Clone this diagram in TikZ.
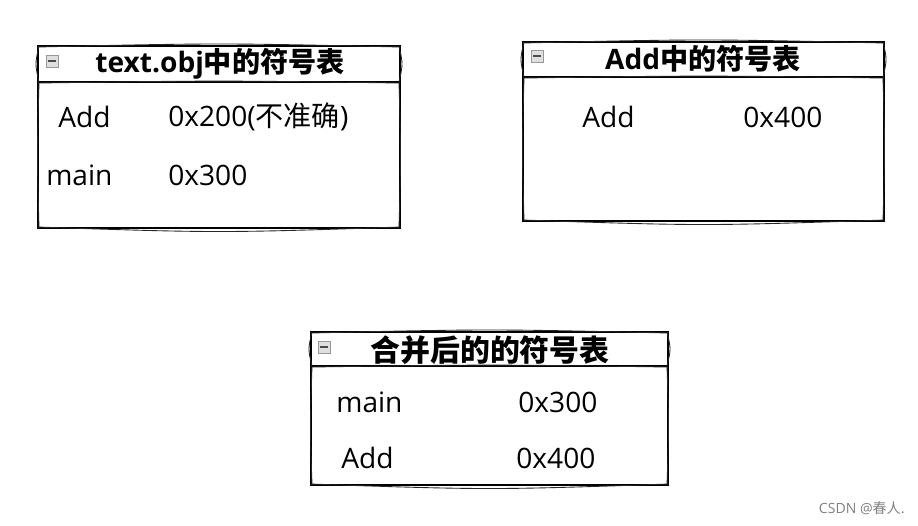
\documentclass[tikz,border=0pt]{standalone}
\usepackage{fontspec}
\setmainfont{Open Sans}
\newfontfamily\cjk{Noto Sans CJK SC}
\tikzset{hd/.style={line width=0.9pt,black}}
\tikzset{hdb/.style={line width=0.5pt,black!85}}
\tikzset{ttl/.style={font=\fontsize{16}{16}\selectfont\bfseries}}
\tikzset{row/.style={font=\fontsize{16}{16}\selectfont,anchor=west,inner sep=0pt}}
\tikzset{ico/.style={draw=gray!80,fill=gray!25,minimum size=7pt,inner sep=0pt,
  path picture={\draw[black!70,line width=0.8pt] ([xshift=1.5pt]path picture bounding box.west)
  -- ([xshift=-1.5pt]path picture bounding box.east);}}}
% sketchy table frame: left, top, right, header line, bottom
\newcommand\sketchbox[5]{%
  \draw[hd] (#1,#2) -- (#3,#2) -- (#3,#5) -- (#1,#5) -- cycle;
  \draw[hd] (#1,#4) -- (#3,#4);
  \draw[hdb] (#1-1,#2+1) .. controls ({(#1+#3)/2},#2-3) .. (#3+1,#2+1);
  \draw[hdb] (#1,#4+1) .. controls ({(#1+#3)/2},#4-1.5) .. (#3,#4+1);
  \draw[hdb] (#1-1,#5-1) .. controls ({(#1+#3)/2},#5+5) .. (#3+1,#5-1);
  \draw[hdb] (#1+1,#2) .. controls (#1-3,{(#2+#4)/2}) .. (#1+1,#4);
  \draw[hdb] (#3-1,#2) .. controls (#3+3,{(#2+#4)/2}) .. (#3-1,#4);
  \draw[hdb] (#1+1,#4) .. controls (#1-1,{(#4+#5)/2}) .. (#1+1,#5);
  \draw[hdb] (#3-1,#4) .. controls (#3+1,{(#4+#5)/2}) .. (#3-1,#5);
}
\begin{document}
\begin{tikzpicture}[x=0.02cm,y=-0.02cm]
  \useasboundingbox (0,0) rectangle (918,525);
  % text.obj
  \sketchbox{38}{46}{400}{82}{228}
  \node[ico] (i1) at (52,61) {};
  \node[ttl] (t1) at (220,64) {text.obj{\cjk 中的符号表}};
  \node[row] (a1) at (58,117) {Add};
  \node[row] (av1) at (168,117) {0x200({\cjk 不准确})};
  \node[row] (m1) at (46,175) {main};
  \node[row] (mv1) at (168,175) {0x300};
  % Add
  \sketchbox{523}{42}{884}{77}{221}
  \node[ico] (i2) at (537,56) {};
  \node[ttl] (t2) at (703,59) {Add{\cjk 中的符号表}};
  \node[row] (a2) at (582,117) {Add};
  \node[row] (av2) at (743,117) {0x400};
  % merged
  \sketchbox{311}{332}{668}{366}{485}
  \node[ico] (i3) at (324,347) {};
  \node[ttl,font=\fontsize{17}{17}\selectfont\bfseries] (t3) at (490,350) {\cjk 合并后的的符号表};
  \node[row] (m3) at (336,402) {main};
  \node[row] (mv3) at (518,402) {0x300};
  \node[row] (a3) at (341,458) {Add};
  \node[row] (av3) at (516,458) {0x400};
  % watermark
  \node[font=\fontsize{8}{8}\selectfont,text=gray,anchor=east,inner sep=0pt] (wm) at (905,508) {CSDN @{\cjk 春人.}};
\end{tikzpicture}
\end{document}
